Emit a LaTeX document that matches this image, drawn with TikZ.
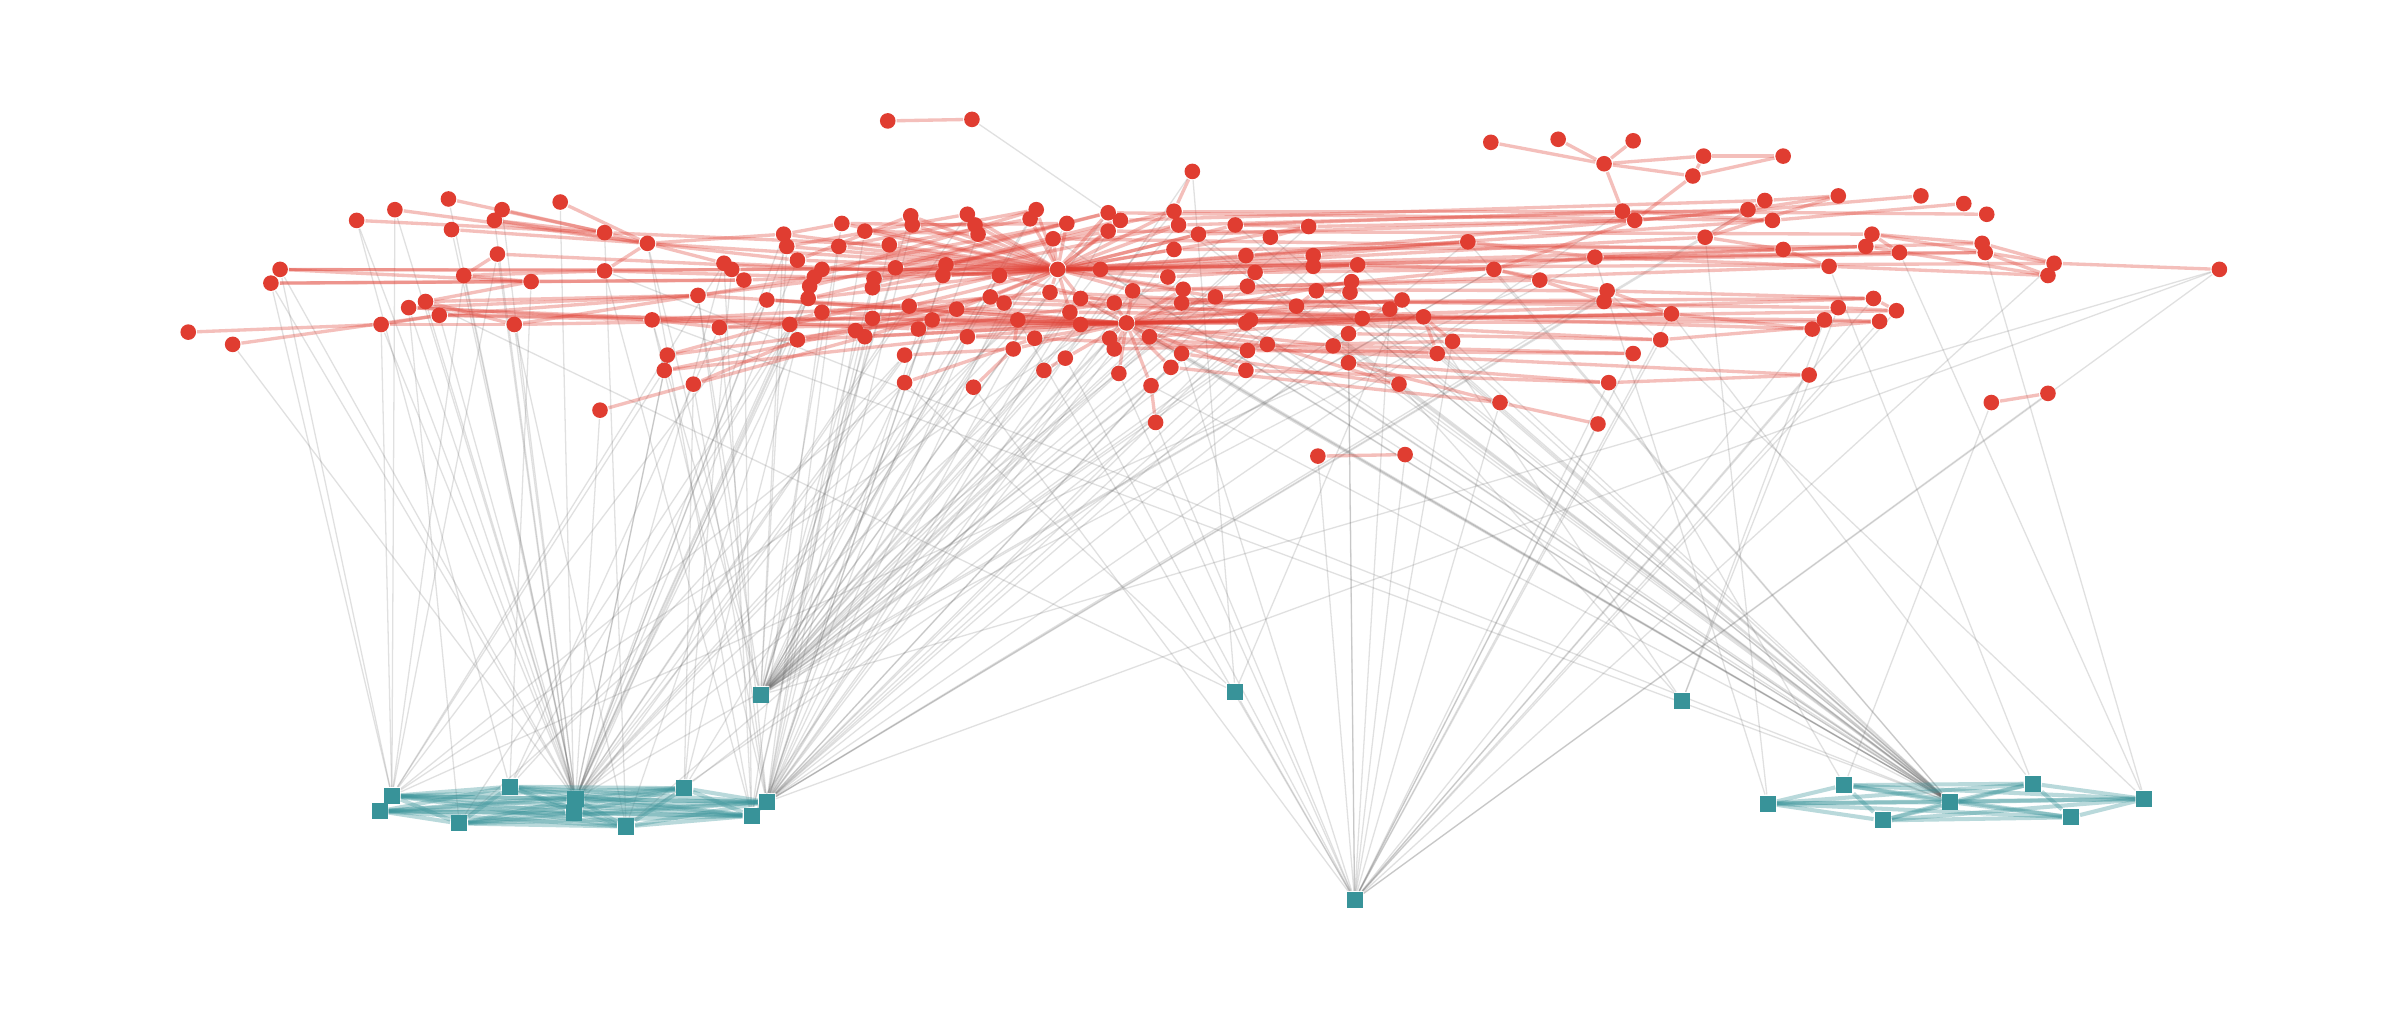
\documentclass[tikz,border=0pt]{standalone}
\definecolor{nred}{RGB}{224,61,49}
\definecolor{nteal}{RGB}{56,147,153}
\pgfdeclarelayer{bgl}
\pgfdeclarelayer{edges}
\pgfsetlayers{bgl,edges,main}
\tikzset{
  rn/.style={circle,fill=nred,draw=none,inner sep=0pt,minimum size=1.02mm},
  tn/.style={rectangle,fill=nteal,draw=none,inner sep=0pt,minimum size=1.05mm},
  re/.style={draw=nred,line width=0.62pt,opacity=0.33},
  ge/.style={draw=black!60,line width=0.24pt,opacity=0.2},
  te/.style={draw=nteal,line width=0.75pt,opacity=0.35},
}
\begin{document}
\begin{tikzpicture}[x=0.1mm,y=-0.1mm]
\useasboundingbox (0,0) rectangle (1568,670);
\begin{pgfonlayer}{bgl}
\fill[white] (0,0) rectangle (1568,670);
\end{pgfonlayer}
% red nodes
\foreach \n/\x/\y in {a1/293/130, a2/328/137, a3/366/132, a4/258/137, a5/233/144, a6/323/144, a7/295/150, a8/395/152, a9/423/159, a10/325/166, a11/183/176, a12/177/185, a13/303/180, a14/347/184, a15/395/177, a16/456/193, a17/278/197, a18/267/201, a19/287/206, a20/249/212, a21/123/217, a22/152/225, a23/336/212, a24/426/209, a25/470/214, a26/436/232, a27/434/242, a28/453/251, a29/392/268}
  \node[rn] (\n) at (\x,\y) {};
\foreach \n/\x/\y in {m1/580/79, m2/635/78, m3/779/112, m4/512/153, m5/550/146, m6/565/151, m7/514/161, m8/548/161, m9/581/160, m10/521/170, m11/595/141, m12/596/147, m13/632/140, m14/637/147, m15/639/153, m16/677/137, m17/673/143, m18/697/146, m19/688/156, m20/724/139, m21/732/144, m22/724/151, m23/767/138, m24/770/147, m25/783/153, m26/807/147, m27/767/163, m28/814/167, m29/820/178, m30/815/187, m31/794/194, m32/773/189, m33/772/198, m34/763/181, m35/740/190, m36/719/176, H/691/176, m38/653/180, m39/618/173, m40/616/180, m41/585/175, m42/571/182, m43/570/188, m44/537/176, m45/532/181, m46/529/187, m47/528/195, m48/473/172, m49/478/176, m50/486/183, m51/501/196, m52/537/204, m53/516/212, m54/521/222, m55/570/208, m56/559/216, m57/565/220, m58/594/200, m59/609/209, m60/600/215, m61/625/202, m62/591/232, m63/591/250, m64/632/220, m65/636/253, m66/647/194, m67/656/198, m68/665/209, m69/662/228, m70/676/221, m71/686/191, m72/706/195, m73/699/204, m74/706/212, m75/696/234, m76/682/242, m77/728/198, H2/736/211, m79/725/221, m80/728/228, m81/751/220, m82/731/244, m83/752/252, m84/755/276, m85/765/240, m86/772/231, m87/814/211, m88/817/209, m89/815/229, m90/814/242}
  \node[rn] (\n) at (\x,\y) {};
\foreach \n/\x/\y in {n1/974/93, n2/1018/91, n3/1067/92, n4/1048/107, n5/1113/102, n6/1165/102, n7/1106/115, n8/1060/138, n9/1068/144, n10/1142/137, n11/1153/131, n12/1158/144, n13/1114/155, n14/1165/163, n15/855/148, n16/830/155, n17/858/167, n18/858/174, n19/887/173, n20/959/158, n21/1042/168, n22/976/176, n23/1006/183, n24/883/184, n25/882/191, n26/860/190, n27/847/200, n28/890/208, n29/916/196, n30/908/202, n31/930/207, n32/881/218, n33/871/226, n34/828/225, n35/881/237, n36/914/251, n37/949/223, n38/939/231, n39/980/263, n40/1044/277, n41/1050/190, n42/1048/197, n43/1092/205, n44/1085/222, n45/1067/231, n46/1051/250}
  \node[rn] (\n) at (\x,\y) {};
\foreach \n/\x/\y in {p1/1201/128, p2/1255/128, p3/1283/133, p4/1298/140, p5/1223/153, p6/1219/161, p7/1241/165, p8/1295/159, p9/1297/165, p10/1342/172, p11/1338/180, p12/1450/176, p13/1195/174, p14/1224/195, p15/1201/201, p16/1239/203, p17/1192/209, p18/1184/215, p19/1228/210, p20/1182/245, p21/1301/263, p22/1338/257, p23/861/298, p24/918/297}
  \node[rn] (\n) at (\x,\y) {};
% teal nodes
\foreach \n/\x/\y in {t1/256/520, t2/248/530, t3/333/514, t4/300/538, t5/376/522, t6/375/531, t7/409/540, t8/447/515, t9/501/524, t10/491/533, t11/497/454, t12/807/452, t13/1099/458, t14/885/588, u1/1155/525, u2/1205/513, u3/1230/536, u4/1274/524, u5/1328/512, u6/1353/534, u7/1401/522}
  \node[tn] (\n) at (\x,\y) {};
\begin{pgfonlayer}{edges}
% grey edges
\foreach \s in {a1,a5,a4,a7,a11,a12,a13,a17,a18,a19,a20,a22,a23,a2,a29,m4,m7,m10,m44,m46,m51,m53,m54,m62,m63,m65,m13,m58,H,m71,m76,a26,a27,n22,m31}
  \draw[ge] (\s) -- (t5);
\foreach \s in {a3,a6,a10,m45,m48,m59}
  \draw[ge] (\s) -- (t6);
\foreach \s in {m4,m5,m7,m11,m16,m18,m19,m20,m23,m24,m26,m28,m36,m38,m41,m42,m55,m59,m61,m66,m71,m72,m74,m77,m79,m81,H2,m85,m87,m89,n15,n17,n19,n24,n21,n22,n16,a24,a9,a16,m32,m33,p12}
  \draw[ge] (\s) -- (t11);
\foreach \s in {m8,m9,m12,m15,m22,m27,m35,m39,m40,m56,m60,m64,m67,m69,m73,m80,m83,m86,m88,m90,n18,n25,n27,n20,n41,n10,n8,a16,a24,a25,a28,p12,n13,m6}
  \draw[ge] (\s) -- (t9);
\foreach \s in {a15,a9,m48,m50,m52,m57,m43,m3}
  \draw[ge] (\s) -- (t10);
\foreach \s in {a11,a12,a20,a13,a4,a10,m48,m51,a27,m63,n23,m34}
  \draw[ge] (\s) -- (t1);
\foreach \s in {a14,a5,m47,a25,m62}
  \draw[ge] (\s) -- (t3);
\foreach \s in {a18,m53,m68}
  \draw[ge] (\s) -- (t4);
\foreach \s in {a23,a8,m30,m45,n28}
  \draw[ge] (\s) -- (t7);
\foreach \s in {m17,m49,a28,m54,m84}
  \draw[ge] (\s) -- (t8);
\foreach \s in {a17,m63,n29,m3,t14}
  \draw[ge] (\s) -- (t12);
\foreach \s in {n31,n36,p15,p17}
  \draw[ge] (\s) -- (t13);
\foreach \s in {m84,m82,n32,n35,n39,n40,n43,n44,n46,p16,p19,p20,p18,n45,p14,m75,m65,p22,p24,p23,m68,p12,n30,n37,p10,m86}
  \draw[ge] (\s) -- (t14);
\foreach \s in {m19,m25,m29,m32,n16,n19,n20,n24,n26,n28,n30,n33,n34,n37,n38,m87,m89,H2,m83,m86,n22,m26,a15,a24,m24,m36,m72,m81,n27}
  \draw[ge] (\s) -- (u4);
\foreach \s in {p21,n46} \draw[ge] (\s) -- (u2);
\foreach \s in {n21,n13} \draw[ge] (\s) -- (u1);
\foreach \s in {n43,p13} \draw[ge] (\s) -- (u5);
\foreach \s in {n41,p7,p9} \draw[ge] (\s) -- (u7);
\draw[ge] (m2) -- (m20);
% teal edges
\foreach \i in {1,...,9}{
  \pgfmathtruncatemacro\s{\i+1}
  \foreach \j in {\s,...,10}{\draw[te] (t\i) -- (t\j);}
}
\foreach \i in {1,...,6}{
  \pgfmathtruncatemacro\s{\i+1}
  \foreach \j in {\s,...,7}{\draw[te] (u\i) -- (u\j);}
}
% red edges
\foreach \a/\b in {a1/a8, a2/a8, a4/a9, a5/a8, a6/a8, a6/a9, a7/a9, a3/a9, a8/a9, a2/a6, a10/a13, a11/a14, a12/a14, a13/a14, a14/a17, a17/a16, a15/a9, a18/a16, a19/a24, a19/a16, a20/a21, a20/a19, a20/a23, a22/a19, a23/a16, a24/a25, a28/a29, a13/a15, a11/a15, a17/a23, a18/a24,
  a9/H, a9/m4, a9/m48, a8/m9, a10/m44, a15/m41, a15/m45, a14/m50, a16/m39, a16/m45, a16/H2, a23/m55, a24/m58, a25/m61, a26/m52, a27/m56, a28/m57, a11/m49, a12/m50, a9/m10, a24/m53, a19/m59, a18/m60, a25/H2, a26/m59, a27/m64, a28/m54}
  \draw[re] (\a) -- (\b);
\foreach \a/\b in {H/m16, H/m17, H/m18, H/m19, H/m20, H/m21, H/m22, H/m13, H/m14, H/m15, H/m11, H/m12, H/m5, H/m6, H/m4, H/m23, H/m24, H/m27, H/m36, H/m38, H/m39, H/m40, H/m41, H/m71, H/m72, H/m73, H/m66, H/m67, H/m34, H/m35, H/m9, H/m8, H/m44, H/m26, H/m28, H/m25, H/m58, H/m61, H/m31, H/m32, H/m29, H/n15, H/n17, H/n19, H/m42, H/m10, H/m7, H/m47, m3/m23, m1/m2, H/n12, H/n14, H/p7, H/p9, H/p10}
  \draw[re] (\a) -- (\b);
\foreach \a/\b in {H2/m77, H2/m79, H2/m80, H2/m81, H2/m82, H2/m83, H2/m85, H2/m86, H2/m74, H2/m72, H2/m70, H2/m35, H2/m33, H2/m87, H2/m88, H2/m89, H2/m90, H2/m68, H2/m69, H2/m64, H2/m61, H2/m59, H2/m55, H2/m53, H2/m54, H2/m32, H2/m31, H2/n27, H2/n28, H2/n24, H2/n34, H2/n33, H2/n29, H2/n43, H2/n31, H2/p14, H2/p19, H2/m75, H2/m60, H2/m57, H2/m52, H2/m51,
  m83/m84, m75/m76, m69/m68, m62/m69, m63/m70, m65/m69,
  m48/m38, m49/m36, m50/H, m51/m58, m52/m71, m53/m38, m54/m66, m45/m16, m46/m20, m47/m23, m44/m18, m43/m24, m42/m22, m55/m66, m56/m67, m57/m61, m58/m73, m59/m74, m60/m77, m64/m70, m41/m20, m10/m11, m7/m13, m4/m5, m8/m16, m9/m17, m5/m14, m6/m15, m12/m18, m40/m36, m39/m21, m38/m77}
  \draw[re] (\a) -- (\b);
\foreach \a/\b in {m26/n15, m26/n8, m28/n20, m28/n9, m29/n22, m30/n23, m31/n21, m32/n41, m33/n42, m34/n19, m36/n13, m25/n9, m24/n10, m23/n8, m21/n11, m20/n12, m19/n14, m22/p5, m27/p6, m35/p13, m87/n43, m88/n44, m89/n45, m90/n46, m86/n36, m85/n39, m81/n31, m80/n37, m79/n38, m77/p14, m72/p15, m74/p16, m73/p17, m67/p18, m70/p20, m66/n28, m71/n30}
  \draw[re] (\a) -- (\b);
\foreach \a/\b in {n1/n4, n2/n4, n3/n4, n4/n5, n4/n7, n5/n7, n5/n6, n6/n7, n4/n8, n7/n9, n22/n9, n15/n9, n15/n16, n10/n11, n11/n13, n13/n14, n9/n10, n8/n12, n17/n20, n21/p7, n21/p6, n22/n23, n23/n42, n42/n43, n41/n43, n31/n37, n31/n38, n35/n39, n39/n40, n35/n46, n32/n44, n33/n45, n36/n34, n28/n29, n29/n30, n18/n19, n17/n18, n24/n25, n25/n26, n26/n27, n19/n22, n20/n21, n22/n41,
  n14/p6, n14/p13, p5/p8, p5/p9, p5/p7, p6/p8, p7/p9, p8/p10, p9/p10, p9/p11, p10/p12, p13/p11, p1/n11, p1/n10, p2/n9, p3/n12, p4/n8, p14/n41, p15/p16, p17/p19, p18/n43, p20/n46, p21/p22, p13/n21, p11/p6, p1/n13, p23/p24, p14/p16, p19/n44}
  \draw[re] (\a) -- (\b);
\end{pgfonlayer}
\end{tikzpicture}
\end{document}
